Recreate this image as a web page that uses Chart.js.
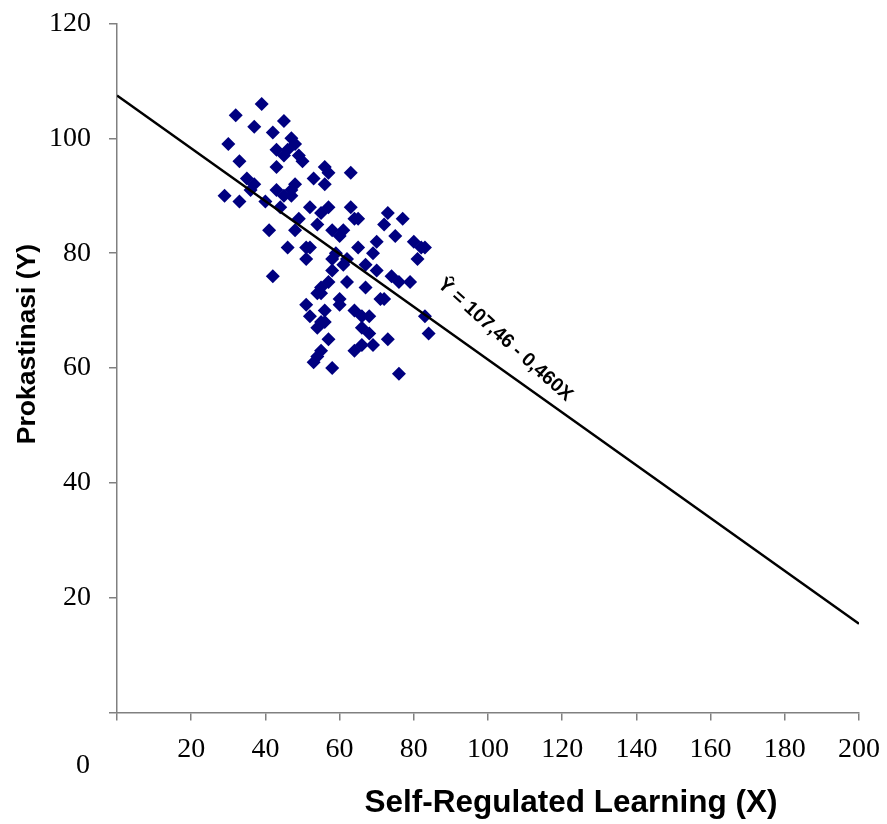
<!DOCTYPE html>
<html>
<head>
<meta charset="utf-8">
<script src="https://cdn.jsdelivr.net/npm/chart.js@4.4.1/dist/chart.umd.min.js"></script>
<style>
html,body{margin:0;padding:0;background:#fff;}
#wrap{width:887px;height:824px;}
</style>
</head>
<body>
<div id="wrap"><canvas id="c" width="887" height="824"></canvas></div>
<script>
// Scatter data: Self-Regulated Learning (X) vs Prokastinasi (Y)
const srlX = [39,32,45,37,42,47,48,30,43,46,45,49,50,33,43,56,57,63,35,53,37,48,56,36,43,47,45,29,33,40,47,52,57,63,55,73,44,64,65,49,77,54,72,41,48,58,61,75,60,70,80,82,46,51,52,59,65,83,51,58,62,69,81,61,67,42,58,70,74,76,79,62,57,67,55,54,55,71,72,60,51,60,64,56,68,83,52,55,66,54,56,66,68,84,57,73,69,66,64,55,54,53,58,76];
const prokY = [106,104,103,102,101,100,99,99,98,98,97,97,96,96,95,95,94,94,93,93,92,92,92,91,91,91,90,90,89,89,90,88,88,88,87,87,88,86,86,86,86,85,85,84,84,84,84,83,83,82,82,81,81,81,81,80,81,81,79,79,79,80,79,78,78,76,77,77,76,75,75,75,75,74,74,73,73,72,72,72,71,71,70,70,69,69,69,68,69,67,68,67,66,66,65,65,64,64,63,63,62,61,60,59];
// Regression line endpoints
const lineX = [0, 200];
const lineY = [107.46, 15.46];
const equationText = 'Ŷ = 107,46 - 0,460X';
const xTitle = 'Self-Regulated Learning (X)';
const yTitle = 'Prokastinasi (Y)';

const scatterPts = srlX.map((x,i)=>({x:x,y:prokY[i]}));
const linePts = lineX.map((x,i)=>({x:x,y:lineY[i]}));

const axisColor = '#808080';
const tickFont = {family:'Liberation Serif', size:28};

const drawText = {
  id:'drawText',
  afterDraw(chart){
    const ctx = chart.ctx;
    const xs = chart.scales.x, ys = chart.scales.y;
    ctx.save();
    ctx.fillStyle = '#000';
    ctx.textAlign = 'center'; ctx.textBaseline = 'middle';
    // Y title
    ctx.font = 'bold 26.5px "Liberation Sans"';
    ctx.save();
    ctx.translate(28, 344);
    ctx.rotate(-Math.PI/2);
    ctx.fillText(yTitle, 0, 0);
    ctx.restore();
    // X title
    ctx.font = 'bold 31.5px "Liberation Sans"';
    ctx.fillText(xTitle, 571, 803);
    // origin label
    ctx.font = '28px "Liberation Serif"';
    ctx.fillText('0', 83, 766);
    // equation next to the line
    const cx = xs.getPixelForValue(104.6), cy = ys.getPixelForValue(64.9);
    ctx.translate(cx, cy);
    ctx.rotate(42*Math.PI/180);
    ctx.font = 'bold 19.5px "Liberation Sans"';
    ctx.fillText(equationText, 0, 0);
    ctx.restore();
  }
};

function noPad(s){ s.paddingTop=0; s.paddingBottom=0; s.paddingLeft=0; s.paddingRight=0; }

new Chart(document.getElementById('c'), {
  data: {
    datasets: [
      {
        type:'scatter',
        data: scatterPts,
        pointStyle:'rectRot',
        pointRadius:7,
        pointHoverRadius:7,
        backgroundColor:'#000080',
        borderColor:'#000080',
        borderWidth:0,
        order:2
      },
      {
        type:'line',
        data: linePts,
        borderColor:'#000',
        borderWidth:2.5,
        pointRadius:0,
        fill:false,
        order:1
      }
    ]
  },
  options: {
    responsive:false,
    animation:false,
    events:[],
    layout:{padding:{left:0,right:28,top:23.5,bottom:0}},
    plugins:{legend:{display:false},tooltip:{enabled:false}},
    scales:{
      x:{
        type:'linear', min:0, max:200,
        ticks:{stepSize:20, color:'#000', font:tickFont, padding:12, maxRotation:0,
          callback:(v)=> v===0 ? '' : v},
        grid:{drawOnChartArea:false, drawTicks:true, tickLength:8, color:axisColor, lineWidth:1.5},
        border:{display:true, color:axisColor, width:1.5},
        afterFit(s){ s.height = 111.5; noPad(s); }
      },
      y:{
        type:'linear', min:0, max:120,
        ticks:{stepSize:20, color:'#000', font:tickFont, padding:18,
          callback:(v)=> v===0 ? '' : v},
        grid:{drawOnChartArea:false, drawTicks:true, tickLength:8, color:axisColor, lineWidth:1.5},
        border:{display:true, color:axisColor, width:1.5},
        afterFit(s){ s.width = 117; noPad(s); }
      }
    }
  },
  plugins:[drawText]
});
</script>
</body>
</html>
